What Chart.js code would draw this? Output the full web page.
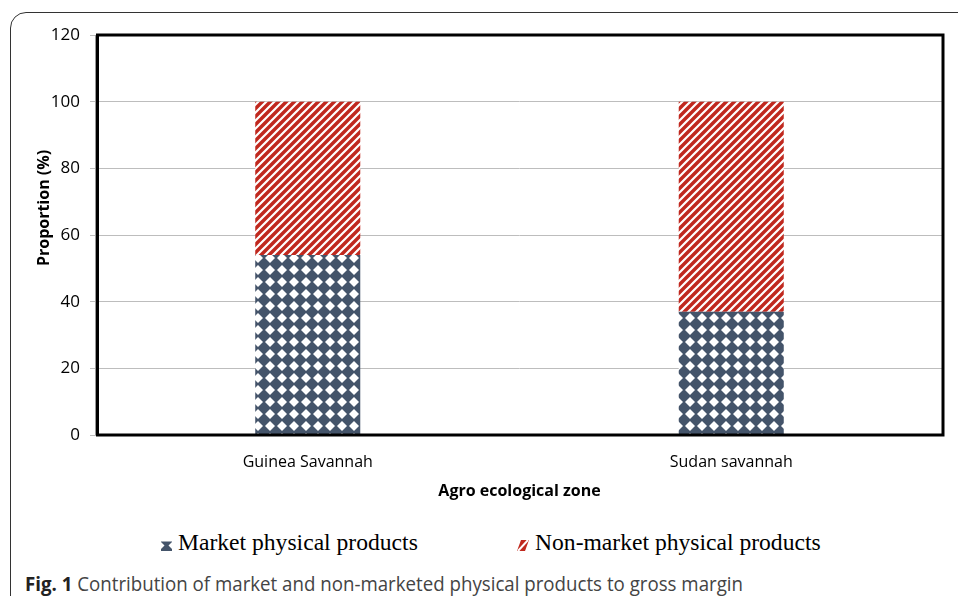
<!DOCTYPE html>
<html>
<head>
<meta charset="utf-8">
<script src="https://cdn.jsdelivr.net/npm/chart.js@4/dist/chart.umd.min.js"></script>
<style>
  html, body { margin:0; padding:0; background:#fff; width:958px; height:596px; overflow:hidden; }
  #frame { position:absolute; left:10px; top:12px; width:1000px; height:600px; border:1.6px solid #333; border-radius:16px; box-sizing:border-box; }
  #wrap { position:absolute; left:0; top:0; width:958px; height:520px; }
  .leg { position:absolute; top:529px; font-family:"Liberation Serif","Times New Roman",serif; font-size:23.6px; color:#000; white-space:nowrap; }
  .leg canvas { position:absolute; }
  #caption { position:absolute; left:25px; top:570px; font-family:"Open Sans",sans-serif; font-size:20px; color:#444; white-space:nowrap; transform-origin:0 0; }
  #caption b { color:#222; }
</style>
</head>
<body>
<div id="frame"></div>
<div id="wrap"><canvas id="c"></canvas></div>
<div class="leg" id="leg1" style="left:160px;"><canvas id="m1" width="11" height="11" style="left:1px;top:11px;"></canvas><span style="margin-left:18px;">Market physical products</span></div>
<div class="leg" id="leg2" style="left:516px;"><canvas id="m2" width="12" height="11" style="left:1px;top:11px;"></canvas><span style="margin-left:19px;">Non-market physical products</span></div>
<div id="caption"><b>Fig. 1</b> Contribution of market and non-marketed physical products to gross margin</div>
<script>
// ---- data ----
const categories = ["Guinea Savannah", "Sudan savannah"];
const marketValues = [54, 37];
const nonMarketValues = [46, 63];
const seriesNames = ["Market physical products", "Non-market physical products"];
const yTicks = [0, 20, 40, 60, 80, 100, 120];

// ---- patterns ----
function dotPattern(ctx) {
  const t = document.createElement('canvas'); t.width = 12; t.height = 12;
  const g = t.getContext('2d');
  g.fillStyle = '#44546a'; g.fillRect(0, 0, 12, 12);
  g.fillStyle = '#ffffff';
  g.beginPath(); g.moveTo(6, 1); g.lineTo(11, 6); g.lineTo(6, 11); g.lineTo(1, 6); g.closePath(); g.fill();
  return ctx.createPattern(t, 'repeat');
}
function stripePattern(ctx) {
  const s = 8;
  const t = document.createElement('canvas'); t.width = s; t.height = s;
  const g = t.getContext('2d');
  g.fillStyle = '#c0281e'; g.fillRect(0, 0, s, s);
  g.strokeStyle = '#ffffff'; g.lineWidth = 2.2;
  g.beginPath();
  g.moveTo(-1, s + 1); g.lineTo(s + 1, -1);
  g.moveTo(-1, 1); g.lineTo(1, -1);
  g.moveTo(s - 1, s + 1); g.lineTo(s + 1, s - 1);
  g.stroke();
  return ctx.createPattern(t, 'repeat');
}

const canvas = document.getElementById('c');
canvas.width = 958; canvas.height = 520;
const ctx = canvas.getContext('2d');
const dots = dotPattern(ctx);
const stripes = stripePattern(ctx);

// legend markers
(function () {
  const a = document.getElementById('m1').getContext('2d');
  a.fillStyle = '#44546a'; a.fillRect(0, 0, 11, 11);
  a.fillStyle = '#fff';
  a.beginPath(); a.moveTo(0, 2); a.lineTo(3.5, 5.5); a.lineTo(0, 9); a.fill();
  a.beginPath(); a.moveTo(11, 2); a.lineTo(7.5, 5.5); a.lineTo(11, 9); a.fill();
  a.fillRect(0, 0, 11, 1.5);
  const b = document.getElementById('m2').getContext('2d');
  b.fillStyle = '#c0281e';
  b.beginPath(); b.moveTo(4, 0); b.lineTo(12, 0); b.lineTo(8, 11); b.lineTo(0, 11); b.closePath(); b.fill();
  b.strokeStyle = '#fff'; b.lineWidth = 2;
  b.beginPath(); b.moveTo(1, 11); b.lineTo(11, 0); b.stroke();
})();

const frameBox = {
  id: 'frameBox',
  afterDatasetsDraw(chart) {
    const a = chart.chartArea, c = chart.ctx;
    c.save();
    c.strokeStyle = '#000'; c.lineWidth = 3;
    c.strokeRect(a.left + 1.5, a.top, a.right - a.left - 1.5, a.bottom - a.top);
    c.strokeStyle = '#999'; c.lineWidth = 1;
    c.beginPath(); c.moveTo(a.left - 0.5, a.top); c.lineTo(a.left - 0.5, a.bottom); c.stroke();
    c.restore();
  }
};
const yTitle = {
  id: 'yTitle',
  afterDraw(chart) {
    const c = chart.ctx;
    c.save();
    c.translate(44, 208);
    c.rotate(-Math.PI / 2);
    c.font = 'bold 16px "Open Sans"';
    c.fillStyle = '#000';
    c.textAlign = 'center'; c.textBaseline = 'middle';
    c.fillText('Proportion (%)', 0, 0);
    c.restore();
  }
};

new Chart(ctx, {
  type: 'bar',
  data: {
    labels: categories,
    datasets: [
      { label: seriesNames[0], data: marketValues, backgroundColor: dots, borderWidth: 0 },
      { label: seriesNames[1], data: nonMarketValues, backgroundColor: stripes, borderWidth: 0 }
    ]
  },
  options: {
    responsive: false,
    animation: false,
    devicePixelRatio: 1,
    categoryPercentage: 1,
    barPercentage: 0.248,
    layout: { padding: { left: 0, top: 35, right: 15, bottom: 15 } },
    plugins: { legend: { display: false }, tooltip: { enabled: false } },
    scales: {
      x: {
        stacked: true,
        grid: { display: false, drawTicks: false },
        border: { display: false },
        ticks: { font: { family: 'Open Sans', size: 16 }, color: '#000', padding: 18 },
        title: { display: true, text: 'Agro ecological zone', font: { family: 'Open Sans', size: 16, weight: 'bold' }, color: '#000', padding: { top: 0, bottom: 4 } },
        afterFit(s) { s.height = 70; }
      },
      y: {
        stacked: true,
        min: 0, max: 120,
        afterBuildTicks(s) { s.ticks = yTicks.map(v => ({ value: v })); },
        grid: { color: '#bdbdbd', lineWidth: 1, tickLength: 6 },
        border: { display: false },
        ticks: { font: { family: 'Open Sans', size: 17 }, color: '#000', padding: 10 },
        afterFit(s) { s.width = 96; }
      }
    }
  },
  plugins: [frameBox, yTitle]
});

// fit caption width to reference
const cap = document.getElementById('caption');
const w = cap.getBoundingClientRect().width;
cap.style.transform = 'scaleX(' + (718 / w) + ')';
</script>
</body>
</html>
